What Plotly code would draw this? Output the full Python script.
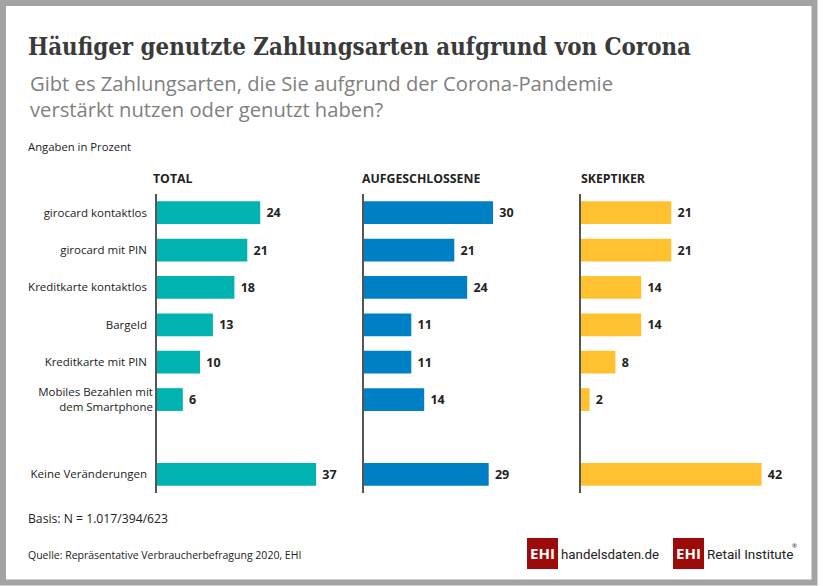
import plotly.graph_objects as go

W, H = 840, 586

# data
categories = ["girocard kontaktlos", "girocard mit PIN", "Kreditkarte kontaktlos", "Bargeld",
              "Kreditkarte mit PIN", "Mobiles Bezahlen mit<br>dem Smartphone", " ", "Keine Veränderungen"]
total = [24, 21, 18, 13, 10, 6, None, 37]
aufgeschlossene = [30, 21, 24, 11, 11, 14, None, 29]
skeptiker = [21, 21, 14, 14, 8, 2, None, 42]
panel_titles = ["TOTAL", "AUFGESCHLOSSENE", "SKEPTIKER"]
colors = ["#00b2b0", "#0080c4", "#ffc12f"]
panel_left = [157, 364, 581]
panel_title_x = [151, 360, 579]
# the two-line label sits a little closer to the axis than the others
tick_labels = [c if "<br>" in c else c + "\u00a0\u00a0" for c in categories]

TEXT = "#222222"
SANS = "Open Sans"
px_per_unit = 4.3
x_max = 50


def px(x):
    return x / W


def py(y):
    return 1 - y / H


fig = go.Figure()

for i, values in enumerate([total, aufgeschlossene, skeptiker]):
    n = "" if i == 0 else str(i + 1)
    fig.add_trace(go.Bar(
        x=values, y=categories, orientation="h", marker_color=colors[i], marker_line_width=0,
        text=["\u00a0" + str(v) if v is not None else "" for v in values],
        textposition="outside", cliponaxis=False,
        textfont=dict(family=SANS, size=12.5, color=TEXT, weight="bold"),
        xaxis="x" + n, yaxis="y" + n, showlegend=False,
    ))
    left = panel_left[i]
    fig.update_layout({
        "xaxis" + n: dict(domain=[px(left), px(left + x_max * px_per_unit)], range=[0, x_max],
                          visible=False, anchor="y" + n),
        "yaxis" + n: dict(domain=[py(493), py(194)], autorange="reversed", anchor="x" + n,
                          categoryorder="array", categoryarray=categories,
                          tickmode="array", tickvals=categories, ticktext=tick_labels,
                          showline=True, linecolor="#555555", linewidth=1.5, ticks="",
                          showgrid=False, zeroline=False, showticklabels=i == 0,
                          tickfont=dict(family=SANS, size=11.5, color=TEXT), ticklabelstandoff=0),
    })
    fig.add_annotation(text="<b>" + panel_titles[i] + "</b>", x=px(panel_title_x[i]), y=py(178),
                       xref="paper", yref="paper", xanchor="left", yanchor="middle", showarrow=False,
                       font=dict(family=SANS, size=12.3, color=TEXT))


def label(text, x, y, size, color=TEXT, family=SANS, anchor="left"):
    fig.add_annotation(text=text, x=px(x), y=py(y), xref="paper", yref="paper", xanchor=anchor,
                       yanchor="middle", showarrow=False, align="left",
                       font=dict(family=family, size=size, color=color))


label("<b>Häufiger genutzte Zahlungsarten aufgrund von Corona</b>", 26, 47, 23.8, "#3a3a3a", "DejaVu Serif Condensed")
label("Gibt es Zahlungsarten, die Sie aufgrund der Corona-Pandemie", 28, 83, 20.2, "#808080")
label("verstärkt nutzen oder genutzt haben?", 28, 109, 20.2, "#808080")
label("Angaben in Prozent", 26, 146.5, 11.3)
label("Basis: N = 1.017/394/623", 26, 518, 12.2)
label("Quelle: Repräsentative Verbraucherbefragung 2020, EHI", 26, 555, 10.5)

# logos
label("<b>EHI</b>", 542.5, 553, 15, "white", SANS, "center")
label("handelsdaten.de", 559, 554, 13.3, "#222222", "Roboto")
label("<b>EHI</b>", 688.5, 553, 15, "white", SANS, "center")
label("Retail Institute", 705, 554, 13.5, "#222222", "Roboto")
label("®", 790, 546, 6, "#222222", SANS)

shapes = [
    dict(type="rect", x0=px(3), x1=px(814.5), y0=py(3), y1=py(582.5), xref="paper", yref="paper",
         line=dict(color="#a3a3a3", width=6), fillcolor="white", layer="below"),
    dict(type="rect", x0=px(527), x1=px(558), y0=py(538), y1=py(569), xref="paper", yref="paper",
         line_width=0, fillcolor="#9c0a0a", layer="below"),
    dict(type="rect", x0=px(673), x1=px(704), y0=py(538), y1=py(569), xref="paper", yref="paper",
         line_width=0, fillcolor="#9c0a0a", layer="below"),
]

fig.update_layout(
    width=W, height=H, margin=dict(l=0, r=0, t=0, b=0), autosize=False,
    paper_bgcolor="white", plot_bgcolor="rgba(0,0,0,0)", bargap=0.39, shapes=shapes,
)

# the page has a default body margin, drop it so the figure fills the window
fig.write_html("out.html", config={"displayModeBar": False},
               post_script="document.body.style.margin='0';")
